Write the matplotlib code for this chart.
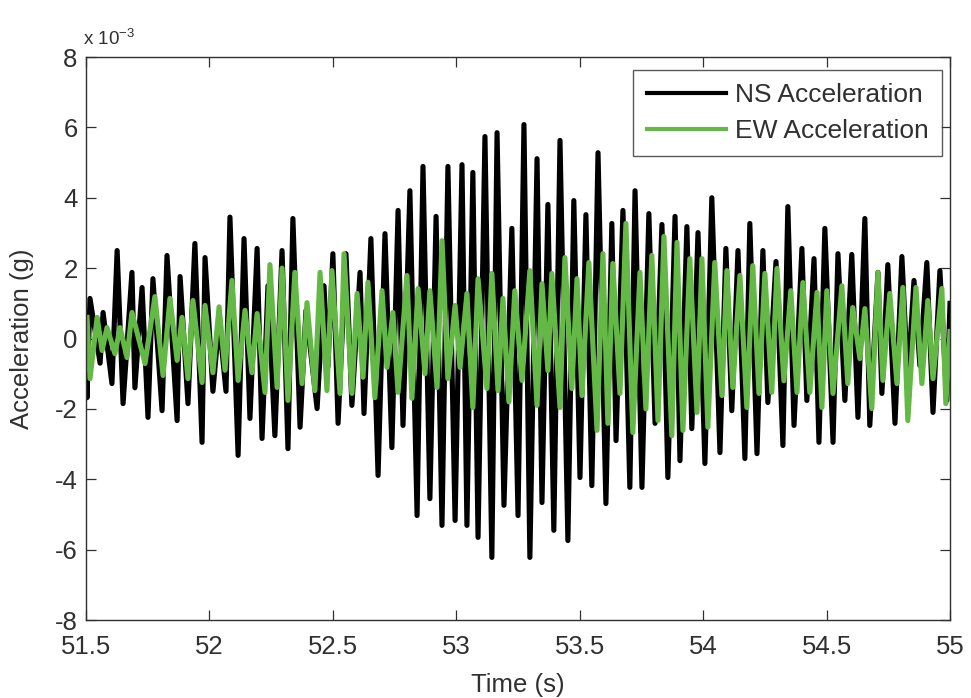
import matplotlib
matplotlib.use("Agg")
import matplotlib.pyplot as plt
import numpy as np

plt.rcParams['font.family'] = ['Liberation Sans', 'DejaVu Sans']
plt.rcParams['axes.unicode_minus'] = False
plt.rcParams['mathtext.fontset'] = 'custom'
plt.rcParams['mathtext.rm'] = 'Liberation Sans'
plt.rcParams['mathtext.default'] = 'regular'

# NS component: successive peaks/troughs (time in s, acceleration in 1e-3 g)
ns_time = [51.500, 51.504, 51.516, 51.557, 51.569, 51.605, 51.626, 51.650, 51.686, 51.698,
           51.727, 51.751, 51.771, 51.808, 51.828, 51.869, 51.881, 51.913, 51.941, 51.970,
           51.982, 52.014, 52.039, 52.067, 52.083, 52.116, 52.140, 52.164, 52.193, 52.213,
           52.237, 52.265, 52.294, 52.318, 52.338, 52.367, 52.391, 52.436, 52.464, 52.480,
           52.500, 52.521, 52.553, 52.577, 52.610, 52.626, 52.654, 52.683, 52.711, 52.739,
           52.764, 52.784, 52.812, 52.841, 52.865, 52.893, 52.918, 52.942, 52.966, 52.995,
           53.023, 53.043, 53.067, 53.088, 53.116, 53.144, 53.165, 53.193, 53.225, 53.250,
           53.274, 53.298, 53.327, 53.347, 53.371, 53.395, 53.420, 53.452, 53.476, 53.501,
           53.525, 53.549, 53.574, 53.606, 53.630, 53.647, 53.675, 53.703, 53.724, 53.752,
           53.780, 53.805, 53.833, 53.857, 53.886, 53.906, 53.934, 53.954, 53.979, 54.007,
           54.035, 54.068, 54.092, 54.116, 54.141, 54.169, 54.189, 54.218, 54.242, 54.262,
           54.295, 54.323, 54.343, 54.368, 54.400, 54.420, 54.449, 54.469, 54.493, 54.526,
           54.546, 54.574, 54.602, 54.627, 54.655, 54.675, 54.708, 54.724, 54.748, 54.777,
           54.805, 54.829, 54.854, 54.878, 54.906, 54.931, 54.959, 54.987, 55.000]
ns_acc = [0.50, -1.68, 1.14, -0.70, 0.74, -1.28, 2.50, -1.85, 1.88, -1.40,
          1.45, -2.24, 1.70, -2.05, 2.36, -2.33, 1.76, -1.85, 2.70, -2.95,
          2.30, -1.50, 0.50, -1.50, 3.45, -3.32, 2.84, -2.27, 2.56, -2.84,
          1.50, -2.76, 2.50, -3.13, 3.41, -2.52, 0.80, -1.99, 1.50, -0.80,
          2.41, -2.41, 2.41, -1.90, 1.88, -2.13, 2.84, -3.89, 2.98, -3.10,
          3.64, -2.47, 4.20, -5.03, 4.89, -4.55, 3.47, -5.31, 4.89, -5.17,
          4.94, -5.31, 4.72, -5.65, 5.74, -6.22, 5.85, -4.74, 3.13, -5.03,
          6.08, -6.22, 5.11, -4.66, 3.81, -5.45, 5.63, -5.74, 3.92, -3.95,
          3.52, -4.18, 5.28, -4.69, 3.27, -2.90, 3.64, -4.23, 4.20, -4.23,
          3.55, -2.41, 3.24, -3.95, 3.47, -3.47, 3.18, -2.56, 3.01, -3.55,
          4.00, -3.24, 2.56, -2.05, 2.50, -3.41, 3.27, -3.27, 2.50, -1.82,
          2.19, -3.04, 3.75, -2.47, 2.56, -1.76, 2.27, -2.95, 3.13, -2.95,
          2.41, -1.76, 2.39, -2.24, 3.41, -2.47, 1.88, -1.56, 2.10, -2.41,
          2.33, -1.19, 1.65, -0.77, 2.16, -2.10, 1.93, -1.76, 1.00]

# EW component: successive peaks/troughs (time in s, acceleration in 1e-3 g)
ew_time = [51.504, 51.516, 51.545, 51.565, 51.585, 51.617, 51.638, 51.666, 51.686, 51.739,
           51.779, 51.812, 51.840, 51.869, 51.889, 51.913, 51.933, 51.970, 51.982, 52.014,
           52.039, 52.063, 52.091, 52.116, 52.144, 52.172, 52.193, 52.225, 52.245, 52.274,
           52.294, 52.318, 52.346, 52.375, 52.395, 52.427, 52.448, 52.476, 52.496, 52.529,
           52.545, 52.577, 52.598, 52.622, 52.642, 52.670, 52.699, 52.719, 52.743, 52.764,
           52.800, 52.820, 52.845, 52.873, 52.893, 52.922, 52.942, 52.966, 52.995, 53.015,
           53.043, 53.067, 53.088, 53.124, 53.144, 53.169, 53.189, 53.213, 53.237, 53.266,
           53.298, 53.327, 53.347, 53.371, 53.387, 53.420, 53.440, 53.468, 53.489, 53.509,
           53.537, 53.570, 53.594, 53.614, 53.634, 53.663, 53.687, 53.715, 53.744, 53.768,
           53.792, 53.817, 53.841, 53.873, 53.894, 53.918, 53.946, 53.975, 53.995, 54.019,
           54.047, 54.076, 54.096, 54.120, 54.149, 54.177, 54.201, 54.226, 54.250, 54.278,
           54.299, 54.327, 54.355, 54.380, 54.404, 54.432, 54.461, 54.481, 54.501, 54.526,
           54.562, 54.586, 54.606, 54.635, 54.655, 54.683, 54.708, 54.728, 54.756, 54.785,
           54.809, 54.829, 54.862, 54.886, 54.910, 54.931, 54.967, 54.983, 55.000]
ew_acc = [0.60, -1.14, 0.60, -0.34, 0.31, -0.43, 0.31, -0.54, 0.74, -0.71,
          1.19, -1.05, 1.14, -0.62, 0.60, -1.14, 1.08, -1.25, 0.94, -0.97,
          0.90, -0.90, 1.65, -1.19, 0.80, -0.97, 0.71, -1.53, 2.10, -1.39,
          2.00, -1.76, 1.88, -1.28, 1.02, -1.48, 1.88, -1.48, 1.93, -1.56,
          2.41, -1.56, 1.28, -1.10, 1.60, -1.68, 1.36, -0.82, 0.74, -1.53,
          1.79, -1.70, 1.42, -1.00, 1.36, -1.39, 2.78, -1.14, 0.94, -0.82,
          1.28, -1.96, 1.70, -1.42, 1.85, -1.48, 1.14, -1.80, 1.36, -1.19,
          1.93, -1.90, 1.56, -0.91, 1.85, -1.96, 2.30, -1.42, 1.70, -1.62,
          2.16, -2.61, 2.41, -2.41, 2.13, -1.56, 3.27, -2.67, 1.88, -2.00,
          2.36, -2.33, 2.90, -2.76, 2.73, -2.61, 2.27, -2.10, 2.27, -2.52,
          2.16, -1.62, 1.93, -1.39, 1.79, -1.96, 2.07, -1.56, 1.85, -1.53,
          1.99, -1.20, 1.36, -1.53, 1.59, -1.53, 1.31, -1.96, 1.36, -1.56,
          1.50, -1.28, 0.88, -0.57, 0.85, -1.99, 1.88, -1.19, 1.28, -1.28,
          1.45, -2.33, 1.45, -1.28, 1.08, -1.14, 1.42, -1.85, 0.20]

x_ticks = [51.5, 52, 52.5, 53, 53.5, 54, 54.5, 55]
x_ticklabels = ['51.5', '52', '52.5', '53', '53.5', '54', '54.5', '55']
y_ticks = [-8, -6, -4, -2, 0, 2, 4, 6, 8]

ns_color = '#000000'
ew_color = '#64b946'
text_color = '#303030'
fs = 18.5

fig = plt.figure(figsize=(9.71, 6.98), dpi=100)
ax = fig.add_axes([0.0886, 0.1117, 0.8898, 0.8066])

ax.plot(ns_time, ns_acc, color=ns_color, lw=3.7, label='NS Acceleration')
ax.plot(ew_time, ew_acc, color=ew_color, lw=3.7, label='EW Acceleration')

ax.set_xlim(51.5, 55)
ax.set_ylim(-8, 8)
ax.set_xticks(x_ticks)
ax.set_xticklabels(x_ticklabels)
ax.set_yticks(y_ticks)
ax.set_yticklabels([str(v) for v in y_ticks])

ax.tick_params(direction='in', length=7, width=0.9, top=True, right=True,
               labelsize=fs, colors=text_color, labelcolor=text_color)
ax.tick_params(axis='x', pad=10.5)
ax.tick_params(axis='y', pad=6)
for sp in ax.spines.values():
    sp.set_linewidth(1.0)
    sp.set_color(text_color)

ax.set_xlabel('Time (s)', fontsize=fs, color=text_color)
ax.set_ylabel('Acceleration (g)', fontsize=fs, color=text_color)
ax.xaxis.set_label_coords(0.5, -0.094)
ax.yaxis.set_label_coords(-0.060, 0.5)

ax.text(-0.004, 1.021, r'x 10$^{-3}$', transform=ax.transAxes, fontsize=13.5,
        color=text_color, ha='left', va='baseline')

leg = ax.legend(loc='upper right', bbox_to_anchor=(0.9907, 0.9769), borderaxespad=0,
                fontsize=19, frameon=True, fancybox=False, edgecolor=text_color,
                handlelength=3.0, handletextpad=0.35, borderpad=0.5,
                labelspacing=0.45)
leg.get_frame().set_linewidth(1.0)
for line in leg.get_lines():
    line.set_linewidth(3.0)
for t in leg.get_texts():
    t.set_color(text_color)

fig.savefig('out.png', dpi=100, facecolor='white')
